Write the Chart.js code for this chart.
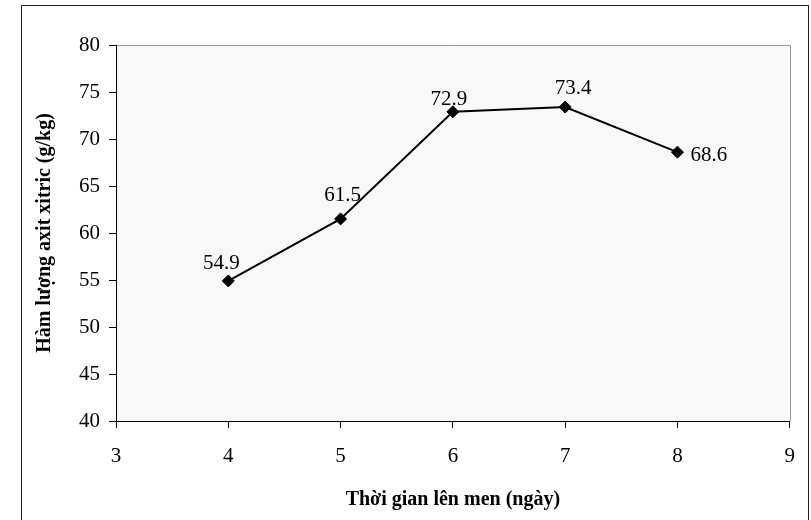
<!DOCTYPE html>
<html>
<head>
<meta charset="utf-8">
<script src="https://cdn.jsdelivr.net/npm/chart.js@4.4.1/dist/chart.umd.min.js"></script>
<style>
  html, body { margin: 0; padding: 0; background: #ffffff; }
  #wrap { width: 811px; height: 520px; }
</style>
</head>
<body>
<div id="wrap"><canvas id="chart" width="811" height="520"></canvas></div>
<script>
// Fermentation time (days) and citric acid content (g/kg)
const days = [4, 5, 6, 7, 8];
const citricAcid = [54.9, 61.5, 72.9, 73.4, 68.6];
const xTicks = [3, 4, 5, 6, 7, 8, 9];
const yTicks = [40, 45, 50, 55, 60, 65, 70, 75, 80];

// where each value label sits relative to its point
const labelSide = ['above', 'above', 'above', 'above', 'right'];
const labelShift = [[-7, -17], [2, -23], [-4, -12], [8, -19], [13, 3]];

const serif = '"Liberation Serif", "Times New Roman", serif';

const plotBackground = {
  id: 'plotBackground',
  beforeDraw(chart) {
    const { ctx, chartArea: a } = chart;
    ctx.save();
    ctx.fillStyle = '#f8f8f8';
    ctx.fillRect(a.left, a.top, a.right - a.left, a.bottom - a.top);
    ctx.strokeStyle = '#9a9a9a';
    ctx.lineWidth = 1;
    ctx.beginPath();
    ctx.moveTo(a.left, Math.round(a.top) + 0.5);
    ctx.lineTo(Math.round(a.right) + 0.5, Math.round(a.top) + 0.5);
    ctx.lineTo(Math.round(a.right) + 0.5, a.bottom);
    ctx.stroke();
    ctx.restore();
  },
  afterDraw(chart) {
    const { ctx } = chart;
    ctx.save();
    ctx.strokeStyle = '#222222';
    ctx.lineWidth = 1;
    ctx.strokeRect(21.5, 5.5, 787, 530);
    ctx.restore();
  }
};

const valueLabels = {
  id: 'valueLabels',
  afterDatasetsDraw(chart) {
    const { ctx } = chart;
    const meta = chart.getDatasetMeta(0);
    ctx.save();
    ctx.font = '21px ' + serif;
    ctx.fillStyle = '#000000';
    ctx.textBaseline = 'middle';
    meta.data.forEach((pt, i) => {
      const [dx, dy] = labelShift[i];
      ctx.textAlign = labelSide[i] === 'right' ? 'left' : 'center';
      ctx.fillText(citricAcid[i].toFixed(1), pt.x + dx, pt.y + dy);
    });
    ctx.restore();
  }
};

new Chart(document.getElementById('chart'), {
  type: 'scatter',
  data: {
    datasets: [{
      data: days.map((d, i) => ({ x: d, y: citricAcid[i] })),
      showLine: true,
      borderColor: '#000000',
      borderWidth: 2,
      pointStyle: 'rectRot',
      pointRadius: 6,
      pointBackgroundColor: '#000000',
      pointBorderColor: '#000000',
      pointBorderWidth: 1
    }]
  },
  options: {
    responsive: false,
    animation: false,
    layout: { padding: { top: 45, right: 19, left: 0, bottom: 0 } },
    plugins: {
      legend: { display: false },
      tooltip: { enabled: false }
    },
    scales: {
      x: {
        type: 'linear',
        min: xTicks[0],
        max: xTicks[xTicks.length - 1],
        afterBuildTicks(scale) { scale.ticks = xTicks.map(v => ({ value: v })); },
        afterFit(scale) { scale.height = 99; },
        grid: { display: true, drawOnChartArea: false, drawTicks: true, tickLength: 7, color: '#000000' },
        border: { display: true, color: '#000000', width: 1 },
        ticks: { color: '#000000', font: { family: serif, size: 21 }, padding: 16, maxRotation: 0 },
        title: {
          display: true,
          text: 'Thời gian lên men (ngày)',
          color: '#000000',
          font: { family: serif, size: 20, weight: 'bold' },
          padding: { top: 0, bottom: 8 }
        }
      },
      y: {
        type: 'linear',
        min: yTicks[0],
        max: yTicks[yTicks.length - 1],
        afterBuildTicks(scale) { scale.ticks = yTicks.map(v => ({ value: v })); },
        afterFit(scale) { scale.width = 116; },
        grid: { display: true, drawOnChartArea: false, drawTicks: true, tickLength: 7, color: '#000000' },
        border: { display: true, color: '#000000', width: 1 },
        ticks: { color: '#000000', font: { family: serif, size: 21 }, padding: 9 },
        title: {
          display: true,
          text: 'Hàm lượng axit xitric (g/kg)',
          color: '#000000',
          font: { family: serif, size: 20, weight: 'bold' },
          padding: { top: 33, bottom: 0 }
        }
      }
    }
  },
  plugins: [plotBackground, valueLabels]
});
</script>
</body>
</html>
